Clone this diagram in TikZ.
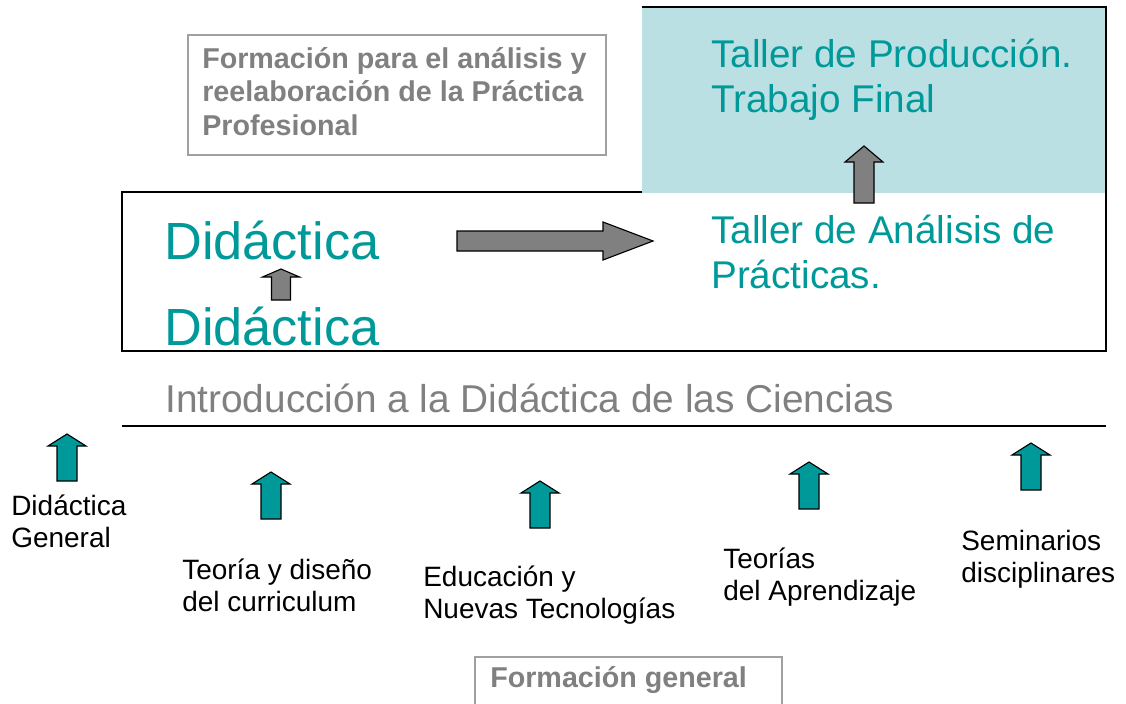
\documentclass[tikz,border=0pt]{standalone}
\usepackage{fontspec}
\setmainfont{Liberation Sans}
\usetikzlibrary{calc}
\definecolor{tealtxt}{RGB}{0,153,153}
\definecolor{tealfill}{RGB}{0,153,153}
\definecolor{paleteal}{RGB}{187,224,227}
\definecolor{greytxt}{RGB}{128,128,128}
\definecolor{greyline}{RGB}{160,160,160}
\def\blockup[#1](#2,#3)(#4:#5:#6:#7){\draw[#1] (#2,#3) -- ++(#5/2,#6) -- ++(-#5/2+#7/2,0) -- ++(0,#4-#6) -- ++(-#7,0) -- ++(0,-#4+#6) -- ++(-#5/2+#7/2,0) -- cycle;}
\tikzset{
  bigteal/.style={text=tealtxt, font=\fontsize{37.2pt}{40pt}\selectfont, inner sep=0, anchor=base west},
  tallertxt/.style={text=tealtxt, font=\fontsize{27.5pt}{32pt}\selectfont, align=left, inner sep=0, anchor=base west},
  introtxt/.style={text=greytxt, font=\fontsize{27.6pt}{32pt}\selectfont, inner sep=0, anchor=base west},
  labeltxt/.style={font=\fontsize{19.9pt}{22.4pt}\selectfont, align=left, inner sep=0, anchor=base west},
  greybold/.style={text=greytxt, font=\bfseries\fontsize{20.4pt}{23.8pt}\selectfont, align=left, inner sep=0, anchor=base west},
  tealarr/.style={fill=tealfill, draw=black, line width=0.8pt},
  greyarr/.style={fill=greytxt, draw=black, line width=0.8pt}
}

\begin{document}
\begin{tikzpicture}[x=0.025cm, y=-0.025cm]
	%%%%% START %%%%%
	\useasboundingbox (0,0) rectangle (1126,704);
	
	\draw[line width=1.1pt] (122,192) rectangle (1106,351);
	\fill[paleteal] (642,7) rectangle (1106,193);
	\draw[line width=1.1pt] (642,7) -- (1106,7) -- (1106,351);
	
	\draw[greyline, line width=1pt] (188,35) rectangle (606,155);
	\node[greybold] (formprac) at (202,135) {Formación para el análisis y\\reelaboración de la Práctica\\Profesional};
	
	\node[tallertxt] (tallerprod) at (711,112) {Taller de Producción.\\Trabajo Final};
	\node[tallertxt] (tallerana) at (711,288) {Taller de Análisis de\\Prácticas.};
	\blockup[greyarr](864,146)(57:38:16:20);
	
	\node[bigteal] (didup) at (164,259) {Didáctica};
	\node[bigteal] (diddown) at (164,345) {Didáctica};
	\blockup[greyarr](281,269)(31:37:8:19);
	
	\draw[greyarr] (653,241) -- (603,222) -- (603,231) -- (457,231) -- (457,251) -- (603,251) -- (603,260) -- cycle;
	
	\node[introtxt] (intro) at (165,412) {Introducción a la Didáctica de las Ciencias};
	\draw[line width=1.1pt] (122,426) -- (1106,426);
	
	\blockup[tealarr](67,434)(47:38:12:20);
	\blockup[tealarr](271,472)(47:38:12:20);
	\blockup[tealarr](540,481)(47:38:12:20);
	\blockup[tealarr](809,462)(47:38:12:20);
	\blockup[tealarr](1031,443)(47:38:12:20);
	
	\node[labeltxt] (didgen) at (11,547) {Didáctica\\General};
	\node[labeltxt] (curric) at (182,611) {Teoría y diseño\\del curriculum};
	\node[labeltxt] (nuevtec) at (423,618) {Educación y\\Nuevas Tecnologías};
	\node[labeltxt] (aprend) at (723,600) {Teorías\\del Aprendizaje};
	\node[labeltxt] (semin) at (961,582) {Seminarios\\disciplinares};
	
	\draw[greyline, line width=1pt] (475,706) -- (475,657) -- (782,657) -- (782,706);
	\node[greybold] (formgen) at (490,687) {Formación general};
	%%%%% END %%%%%
\end{tikzpicture}
\end{document}
